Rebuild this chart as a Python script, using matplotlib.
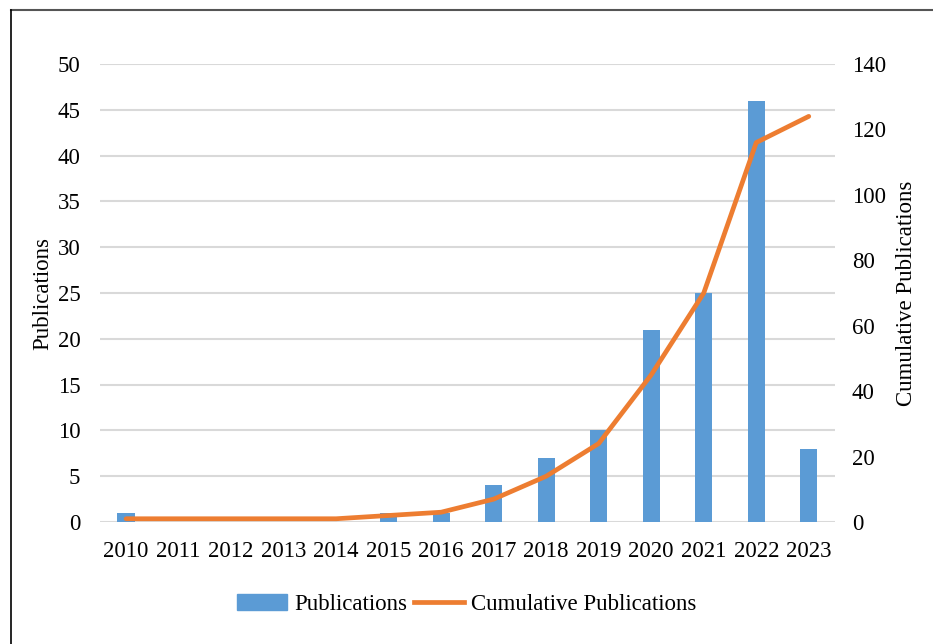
import matplotlib.pyplot as plt
from matplotlib.lines import Line2D
from matplotlib.patches import Patch
import numpy as np

plt.rcParams['font.family'] = ['Liberation Serif', 'DejaVu Serif']

years = ['2010', '2011', '2012', '2013', '2014', '2015', '2016',
         '2017', '2018', '2019', '2020', '2021', '2022', '2023']
pubs = [1, 0, 0, 0, 0, 1, 1, 4, 7, 10, 21, 25, 46, 8]
cumulative = [1, 1, 1, 1, 1, 2, 3, 7, 14, 24, 45, 70, 116, 124]

bar_color = '#5B9BD5'
line_color = '#ED7D31'
fs = 16.5

fig = plt.figure(figsize=(9.33, 6.44), dpi=100)
ax = fig.add_axes([0.107, 0.1894, 0.788, 0.7112])
x = np.arange(len(years))

ax.bar(x, pubs, width=0.33, color=bar_color, zorder=2)
ax.set_ylim(0, 50)
ax.set_yticks(range(0, 51, 5))
ax.set_xlim(-0.5, len(years) - 0.5)
ax.set_xticks(x)
ax.set_xticklabels(years)
ax.grid(axis='y', color='#d9d9d9', linewidth=1.5, zorder=0)
ax.set_axisbelow(True)
for s in ax.spines.values():
    s.set_visible(False)
ax.tick_params(length=0, labelsize=fs)
ax.tick_params(axis='x', pad=14)
ax.tick_params(axis='y', pad=14)
ax.set_ylabel('Publications', fontsize=fs, labelpad=3)

ax2 = ax.twinx()
ax2.plot(x, cumulative, color=line_color, linewidth=3.4, solid_capstyle='round')
ax2.set_ylim(0, 140)
ax2.set_yticks(range(0, 141, 20))
for s in ax2.spines.values():
    s.set_visible(False)
ax2.tick_params(length=0, labelsize=fs, pad=12)
ax2.set_ylabel('Cumulative Publications', fontsize=fs, labelpad=7)

handles = [Patch(color=bar_color, label='Publications'),
           Line2D([0], [0], color=line_color, linewidth=3.4, label='Cumulative Publications')]
fig.legend(handles=handles, loc='center', bbox_to_anchor=(0.5, 0.062), ncol=2,
           frameon=False, fontsize=fs, handlelength=2.2, handletextpad=0.3,
           columnspacing=0.3)

# border lines at top and left like the source image
fig.add_artist(Line2D([11 / 933, 1], [1 - 10 / 644, 1 - 10 / 644], color='#555555',
                      linewidth=1.5, transform=fig.transFigure))
fig.add_artist(Line2D([11 / 933, 11 / 933], [0, 1 - 10 / 644], color='black',
                      linewidth=1.2, transform=fig.transFigure))

fig.savefig('out.png', dpi=100)
